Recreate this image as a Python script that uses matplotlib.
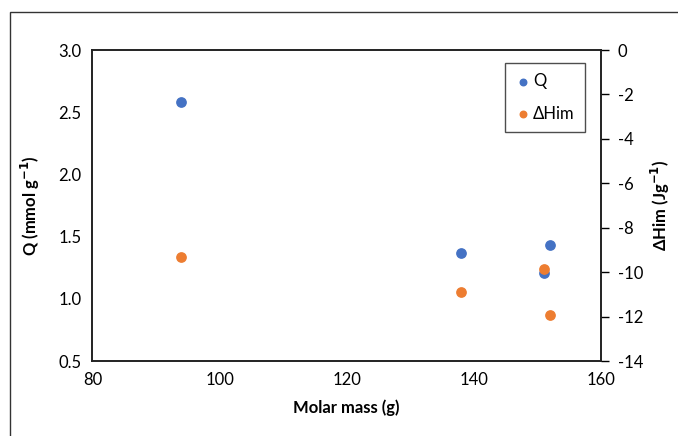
import matplotlib.pyplot as plt
from matplotlib.patches import Rectangle

molar_mass = [94, 138, 151, 152]
q_values = [2.58, 1.37, 1.21, 1.43]
dh_values = [-9.33, -10.91, -9.88, -11.91]

plt.rcParams['font.family'] = ['Lato', 'DejaVu Sans']
plt.rcParams['axes.unicode_minus'] = False

fig = plt.figure(figsize=(6.78, 4.36), dpi=100)
ax = fig.add_axes([0.1364, 0.172, 0.75, 0.7133])
ax2 = ax.twinx()

blue = "#4472C4"
orange = "#ED7D31"

h1 = ax.scatter(molar_mass, q_values, s=45, color=blue, zorder=3, label="Q")
h2 = ax2.scatter(molar_mass, dh_values, s=45, color=orange, zorder=3, label="ΔHim")

ax.set_xlim(80, 160)
ax.set_xticks(range(80, 161, 20))
ax.set_ylim(0.5, 3.0)
ax.set_yticks([0.5, 1.0, 1.5, 2.0, 2.5, 3.0])
ax.set_yticklabels([f"{v:.1f}" for v in [0.5, 1.0, 1.5, 2.0, 2.5, 3.0]])
ax2.set_ylim(-14, 0)
ax2.set_yticks(range(-14, 1, 2))

ax.tick_params(axis="both", length=0, labelsize=12, pad=8)
ax2.tick_params(axis="y", length=6, width=1, labelsize=12, pad=6, direction="out")

for a in (ax, ax2):
    for sp in a.spines.values():
        sp.set_linewidth(1.2)
        sp.set_color("#222222")

ax.set_xlabel("Molar mass (g)", fontsize=12, fontweight="bold", labelpad=8)
ax.set_ylabel("Q (mmol g$^{\\mathbf{-1}}$)", fontsize=12, fontweight="bold", labelpad=12)
ax2.set_ylabel("ΔHim (Jg$^{\\mathbf{-1}}$)", fontsize=12, fontweight="bold", labelpad=4)

leg = ax.legend(handles=[h1, h2], loc="upper right", bbox_to_anchor=(0.968, 0.958),
                borderaxespad=0, fontsize=12, frameon=True, fancybox=False,
                handletextpad=0.1, handlelength=1.0, markerscale=0.7,
                borderpad=0.6, labelspacing=1.0)
leg.get_frame().set_edgecolor("#222222")
leg.get_frame().set_linewidth(1.0)

fig.add_artist(Rectangle((10 / 678, -0.1), 1.2, 1.1 - 12.5 / 436, fill=False,
                         edgecolor="#333333", linewidth=1.0, transform=fig.transFigure))

fig.savefig("out.png", dpi=100)
